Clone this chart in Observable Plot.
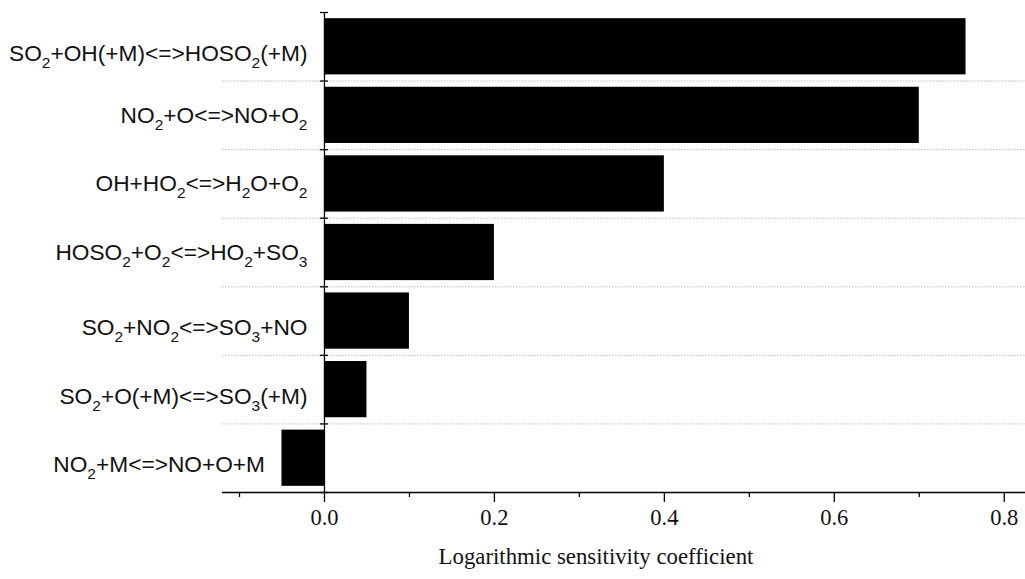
<!DOCTYPE html>
<html>
<head>
<meta charset="utf-8">
<script src="https://cdn.jsdelivr.net/npm/d3@7"></script>
<script src="https://cdn.jsdelivr.net/npm/@observablehq/plot@0.6"></script>
<style>
  html, body { margin: 0; padding: 0; background: #fff; }
  #chart svg { display: block; }
</style>
</head>
<body>
<div id="chart"></div>
<script>
// Reactions (top to bottom) and their logarithmic sensitivity coefficients
const reactions = [
  "SO2+OH(+M)<=>HOSO2(+M)",
  "NO2+O<=>NO+O2",
  "OH+HO2<=>H2O+O2",
  "HOSO2+O2<=>HO2+SO3",
  "SO2+NO2<=>SO3+NO",
  "SO2+O(+M)<=>SO3(+M)",
  "NO2+M<=>NO+O+M"
];
const coefficients = [0.755, 0.70, 0.40, 0.20, 0.10, 0.05, -0.05];

// x axis ticks
const majorTicks = [0, 0.2, 0.4, 0.6, 0.8];
const minorTicks = [-0.1, 0.1, 0.3, 0.5, 0.7];
const xTitle = "Logarithmic sensitivity coefficient";

const rows = reactions.map((name, i) => ({name, value: coefficients[i], row: i}));
const n = reactions.length;
const boundaries = d3.range(n + 1);          // row edges: 0 (top) … n (bottom)
const endsWithSubscript = (d) => /\d$/.test(d.name);

const serif = "'Liberation Serif', 'Times New Roman', serif";
const sans = "'Liberation Sans', Arial, sans-serif";
const lineW = 1.3;

const labelOptions = {
  x: (d) => Math.min(0, d.value),
  y: (d) => d.row + 0.5,
  text: "name",
  textAnchor: "end",
  dx: -17,
  fontSize: 22.7,
  fontFamily: sans,
  fill: "#111"
};

const chart = Plot.plot({
  width: 1025,
  height: 579,
  marginLeft: 222,
  marginRight: 0,
  marginTop: 12,
  marginBottom: 87,
  style: {background: "white", overflow: "visible"},
  x: {domain: [-0.12, 0.825]},
  y: {domain: [0, n], reverse: true, axis: null},
  marks: [
    // dotted separators between rows
    Plot.ruleY(boundaries.slice(1, -1), {stroke: "#bdbdbd", strokeWidth: 1, strokeDasharray: "1.5,1.5"}),
    // bars
    Plot.rectX(rows, {x: "value", y1: (d) => d.row + 0.09, y2: (d) => d.row + 0.91, fill: "black"}),
    // vertical axis at zero with crossing ticks
    Plot.ruleX([0], {y1: 0, y2: n, stroke: "black", strokeWidth: lineW}),
    Plot.ruleY(boundaries, {x1: 0, x2: 0, insetLeft: -4, insetRight: -4, stroke: "black", strokeWidth: lineW}),
    // horizontal axis line
    Plot.ruleY([n], {stroke: "black", strokeWidth: lineW}),
    Plot.axisX({
      ticks: majorTicks, tickSize: 10, tickPadding: 7, strokeWidth: lineW,
      tickFormat: d3.format(".1f"), fontSize: 22.5, fontFamily: serif, fill: "#111", label: null
    }),
    Plot.axisX({ticks: minorTicks, tickSize: 5, strokeWidth: lineW, tickFormat: () => "", label: null}),
    // reaction labels, placed left of each bar's start
    Plot.text(rows.filter(endsWithSubscript), labelOptions),
    Plot.text(rows.filter((d) => !endsWithSubscript(d)), {...labelOptions, dy: 7}),
    // axis title
    Plot.text([xTitle], {
      frameAnchor: "bottom", lineAnchor: "middle", dx: -28, dy: 64,
      fontSize: 22.8, fontFamily: serif, fill: "#111"
    })
  ]
});

// chemical formulas: render digits as subscripts
const svgns = "http://www.w3.org/2000/svg";
chart.querySelectorAll("text").forEach((el) => {
  const s = el.textContent;
  if (!s.includes("<=>")) return;
  while (el.firstChild) el.removeChild(el.firstChild);
  let lowered = false;
  for (const part of s.match(/\d+|\D+/g)) {
    const t = document.createElementNS(svgns, "tspan");
    t.textContent = part;
    if (/\d/.test(part)) {
      t.setAttribute("font-size", 15.5);
      t.setAttribute("dy", 7);
      lowered = true;
    } else if (lowered) {
      t.setAttribute("dy", -7);
      lowered = false;
    }
    el.appendChild(t);
  }
});

document.getElementById("chart").appendChild(chart);
</script>
</body>
</html>
